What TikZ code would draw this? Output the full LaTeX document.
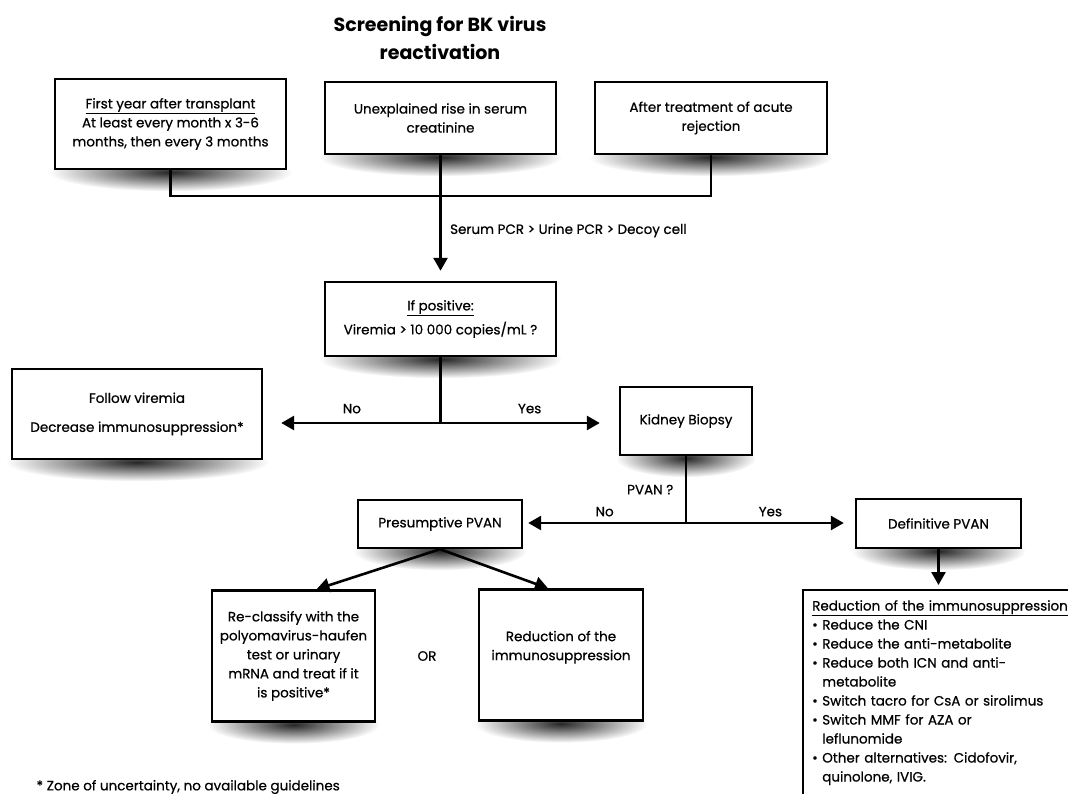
\documentclass[tikz,border=0pt]{standalone}
\usepackage{fontspec}
\setmainfont{Poppins}[UprightFeatures={FakeBold=0.6}]
\usetikzlibrary{arrows.meta,calc,fadings}
\pgfdeclarelayer{background}
\pgfsetlayers{background,main}
\tikzfading[name=shadowfade, inner color=transparent!0, outer color=transparent!100]

\begin{document}
\begin{tikzpicture}[x=1pt, y=-1pt,
  every node/.style={font=\fontsize{13.5}{19}\selectfont},
  box/.style={draw, line width=2.4pt, fill=white, align=center, inner sep=3pt},
  link/.style={line width=2.6pt},
  arr/.style={link, -{Triangle[length=13pt, width=14pt]}}]
\useasboundingbox (0,0) rectangle (1068,794);
\clip (0,0) rectangle (1068,794);
% Title
\node[font=\fontsize{19}{28}\selectfont\bfseries, align=center] (title) at (440,38) {Screening for BK virus\\reactivation};
% Screening triggers
\node[box, minimum width=231pt, minimum height=90pt] (screenyear) at (170.5,124) {\underline{First year after transplant}\\At least every month x 3-6\\months, then every 3 months};
\node[box, minimum width=231pt, minimum height=72pt] (screencreat) at (440.5,118) {Unexplained rise in serum\\creatinine};
\node[box, minimum width=232pt, minimum height=72pt] (screenrejection) at (711,118) {After treatment of acute\\rejection};
% Viremia level
\node[box, minimum width=231pt, minimum height=74pt] (viremiabox) at (440.5,319) {\underline{If positive:}\\[5pt]Viremia > 10 000 copies/mL ?};
\node[box, minimum width=250pt, minimum height=90pt] (followbox) at (137,414) {Follow viremia\\[10pt]Decrease immunosuppression*};
\node[box, minimum width=132pt, minimum height=68pt] (biopsybox) at (686,421) {Kidney Biopsy};
% Biopsy result
\node[box, minimum width=164pt, minimum height=48pt] (presumbox) at (440,524) {Presumptive PVAN};
\node[box, minimum width=165pt, minimum height=49pt] (definbox) at (938.5,523.5) {Definitive PVAN};
\node[box, minimum width=163pt, minimum height=131pt] (reclassbox) at (293.5,656) {Re-classify with the\\polyomavirus-haufen\\test or urinary\\mRNA and treat if it\\is positive*};
\node[box, minimum width=164pt, minimum height=131pt] (reducebox) at (561,655) {Reduction of the\\immunosuppression\\ \mbox{}};
\node (orlabel) at (427,656) {OR};
\node[box, anchor=north west, align=left, text width=262pt, inner xsep=9pt, inner ysep=10pt] (reducelist) at (802,589) {\underline{Reduction of the immunosuppression}\\
\textbullet\ Reduce the CNI\\
\textbullet\ Reduce the anti-metabolite\\
\textbullet\ Reduce both ICN and anti-\\
\phantom{\textbullet\ }metabolite\\
\textbullet\ Switch tacro for CsA or sirolimus\\
\textbullet\ Switch MMF for AZA or\\
\phantom{\textbullet\ }leflunomide\\
\textbullet\ Other alternatives: Cidofovir,\\
\phantom{\textbullet\ }quinolone, IVIG.};
\node[anchor=west] (footnote) at (33,787) {* Zone of uncertainty, no available guidelines};
% Shadows under the boxes
\begin{pgfonlayer}{background}
\foreach \b in {screenyear,screencreat,screenrejection,viremiabox,followbox,biopsybox,presumbox,definbox,reclassbox,reducebox}
  \fill[black!85, path fading=shadowfade]
    let \p1=(\b.south west), \p2=(\b.south east) in
    ([yshift=-2pt]\b.south) ellipse [x radius={0.52*(\x2-\x1)}, y radius=19pt];
\end{pgfonlayer}
% Connectors
\coordinate (hjoin) at (440.5,196);
\coordinate (vjn) at (440.5,423);
\coordinate (pjn) at (686,523);
\draw[link] (screenyear.south) |- (hjoin) -| (screenrejection.south);
\draw[arr, shorten >=10pt] (screencreat.south) -- (viremiabox.north) node[pos=0.6, right=5pt] {Serum PCR > Urine PCR > Decoy cell};
\draw[link] (viremiabox.south) -- (vjn);
\draw[arr, shorten >=18pt] (vjn) -- (followbox.east |- vjn) node[midway, above=5pt] {No};
\draw[arr, shorten >=19pt] (vjn) -- (biopsybox.west |- vjn) node[midway, above=5pt] {Yes};
\draw[link] (biopsybox.south) -- (pjn) node[midway, left=8pt] {PVAN ?};
\draw[arr, shorten >=5pt] (pjn) -- (presumbox.east |- pjn) node[midway, above=2pt] {No};
\draw[arr, shorten >=11pt] (pjn) -- (definbox.west |- pjn) node[midway, above=2pt] {Yes};
\draw[arr, shorten >=4pt] (definbox.south) -- (definbox.south |- reducelist.north);
\draw[arr] (presumbox.south) -- ([xshift=23pt]reclassbox.north);
\draw[arr] (presumbox.south) -- ([xshift=-13pt]reducebox.north);
\end{tikzpicture}
\end{document}
